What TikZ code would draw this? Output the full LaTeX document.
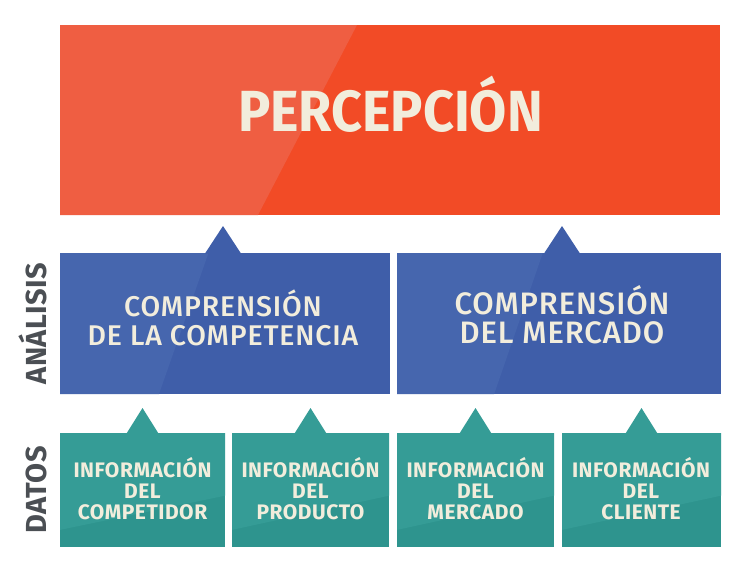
\documentclass[tikz,border=0pt]{standalone}
\usepackage{fontspec}
\setmainfont{Fira Sans}
\newfontfamily\titlefont[FakeStretch=0.93]{Fira Sans}
\newfontfamily\medfont[LetterSpace=3]{Fira Sans Medium}
\newfontfamily\tealfont[LetterSpace=2.5]{Fira Sans}
\newfontfamily\sidefont[LetterSpace=1.5]{Fira Sans}
\usetikzlibrary{calc}
\definecolor{redD}{HTML}{F24B26}
\definecolor{redL}{HTML}{EF5E42}
\definecolor{blueD}{HTML}{3F5EA9}
\definecolor{blueL}{HTML}{4666AE}
\definecolor{tealD}{HTML}{2E948E}
\definecolor{tealL}{HTML}{359C96}
\definecolor{cream}{HTML}{F2EDDC}
\definecolor{sidegray}{HTML}{4B4F54}
\begin{document}
\begin{tikzpicture}[x=1pt,y=-1pt,
  panel/.style={rectangle, inner sep=0pt, outer sep=0pt},
  glossside/.style={path picture={
    \fill[#1] (path picture bounding box.north west)
      -- ($(path picture bounding box.north west)!0.45!(path picture bounding box.north east)$)
      -- ($(path picture bounding box.south west)!0.30!(path picture bounding box.south east)$)
      -- (path picture bounding box.south west) -- cycle;}},
  glosstop/.style={path picture={
    \fill[#1] (path picture bounding box.north west)
      -- (path picture bounding box.north east)
      -- ($(path picture bounding box.north east)!0.55!(path picture bounding box.south east)$)
      -- ($(path picture bounding box.north west)!0.85!(path picture bounding box.south west)$) -- cycle;}},
  redbox/.style={panel, fill=redD, glossside=redL},
  bluebox/.style={panel, fill=blueD, glossside=blueL},
  tealbox/.style={panel, fill=tealD, glosstop=tealL},
  titletext/.style={inner sep=0pt, text=cream, font=\titlefont\bfseries\fontsize{58}{58}\selectfont},
  bluetext/.style={inner sep=0pt, text=cream, align=center},
  tealtext/.style={inner sep=0pt, text=cream, align=center, font=\tealfont\bfseries\fontsize{21}{21}\selectfont},
  sidetext/.style={inner sep=0pt, text=sidegray, rotate=90, font=\sidefont\bfseries\fontsize{29}{29}\selectfont}
]
\useasboundingbox (0,0) rectangle (750,571);
\fill[white] (0,0) rectangle (750,571);

% top
\node[redbox, minimum width=660pt, minimum height=190pt] (perc) at (390,120) {};
\node[titletext, anchor=south] (perct) at (390.5,133) {PERCEPCIÓN};

% analysis row
\node[bluebox, minimum width=330pt, minimum height=141pt] (compa) at (225,323.5) {};
\node[bluebox, minimum width=324pt, minimum height=141pt] (compb) at (559,323.5) {};
\coordinate (pa) at ($(compa.north)+(-2,0)$);
\coordinate (pb) at ($(compb.north)+(3,0)$);
\fill[blueD] ($(pa)+(-18,0.5)$) -- ($(pa)+(0,-27)$) -- ($(pa)+(18,0.5)$) -- cycle;
\fill[blueD] ($(pb)+(-18,0.5)$) -- ($(pb)+(0,-27)$) -- ($(pb)+(18,0.5)$) -- cycle;
\node[bluetext, anchor=south, font=\medfont\fontsize{28.5}{29}\selectfont] (compat) at (223,346) {COMPRENSIÓN\\DE LA COMPETENCIA};
\node[bluetext, anchor=south, font=\medfont\fontsize{31}{28.5}\selectfont] (compbt) at (562,344) {COMPRENSIÓN\\DEL MERCADO};

% data row
\node[tealbox, minimum width=165pt, minimum height=114pt] (d1) at (142.5,490) {};
\node[tealbox, minimum width=157pt, minimum height=114pt] (d2) at (310.5,490) {};
\node[tealbox, minimum width=157pt, minimum height=114pt] (d3) at (475.5,490) {};
\node[tealbox, minimum width=159pt, minimum height=114pt] (d4) at (641.5,490) {};
\foreach \b in {d1,d2,d3,d4}{
  \fill[tealL] ($(\b.north)+(-16,0.5)$) -- ($(\b.north)+(0,-25)$) -- ($(\b.north)+(16,0.5)$) -- cycle;
}
\node[tealtext, anchor=south] (d1t) at (142.5,520) {INFORMACIÓN\\DEL\\COMPETIDOR};
\node[tealtext, anchor=south] (d2t) at (310.5,520) {INFORMACIÓN\\DEL\\PRODUCTO};
\node[tealtext, anchor=south] (d3t) at (475.5,520) {INFORMACIÓN\\DEL\\MERCADO};
\node[tealtext, anchor=south] (d4t) at (641,520) {INFORMACIÓN\\DEL\\CLIENTE};

% side labels
\node[sidetext, anchor=south] (analisis) at (47,323.5) {ANÁLISIS};
\node[sidetext, anchor=south] (datos) at (47,490) {DATOS};
\end{tikzpicture}
\end{document}
